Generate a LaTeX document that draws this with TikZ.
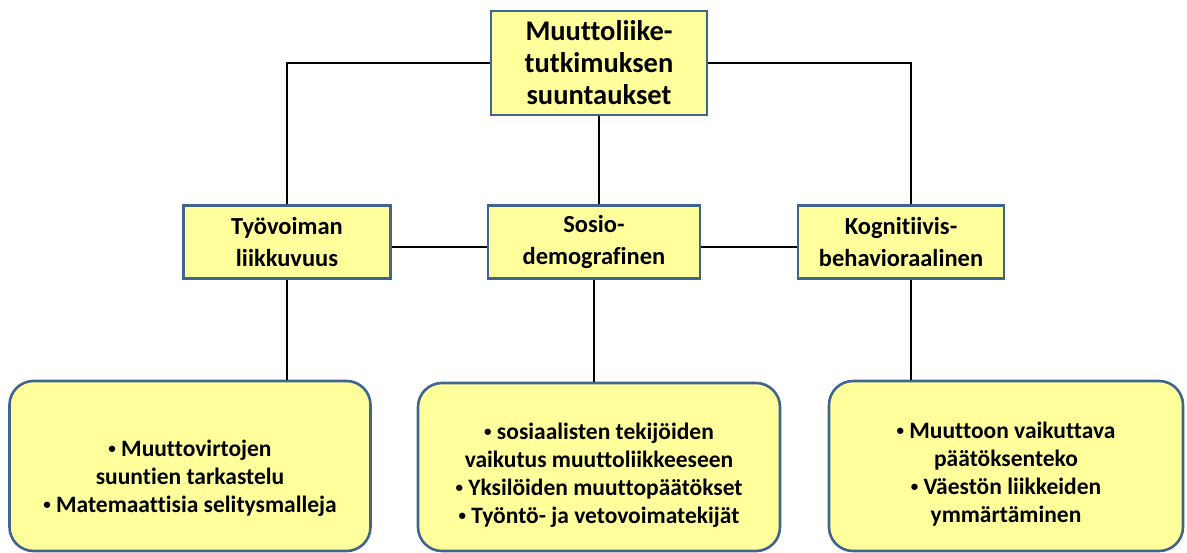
\documentclass[tikz,border=0pt]{standalone}
\usepackage{fontspec}
\setmainfont{Carlito}[Ligatures=NoCommon]
\definecolor{boxfill}{HTML}{FFFF9C}
\definecolor{boxline}{HTML}{41638F}
\newcommand{\dotmark}{\raisebox{2.5pt}{\fontsize{15}{15}\selectfont•}}
\newcommand{\pushdown}{\rule{0pt}{32pt}}
\begin{document}
\begin{tikzpicture}[x=1pt,y=-1pt,
    headbox/.style={draw=boxline,line width=2.6pt,fill=boxfill,align=center,
      font=\bfseries\fontsize{24.5}{32}\selectfont,inner sep=0pt},
    notebox/.style={draw=boxline,line width=2.6pt,fill=boxfill,align=center,rounded corners=24pt,
      font=\bfseries\fontsize{23.5}{28}\selectfont,inner sep=0pt},
    link/.style={line width=1.6pt}]
  \useasboundingbox (0,0) rectangle (1187,552);
  \node[headbox,minimum width=216pt,minimum height=104pt,font=\bfseries\fontsize{28.5}{32}\selectfont] at (599,63) (top) {Muuttoliike-\\tutkimuksen\\suuntaukset};
  \node[headbox,minimum width=207pt,minimum height=73pt] at (287,242) (work) {Työvoiman\\liikkuvuus};
  \node[headbox,minimum width=212pt,minimum height=73pt] at (594,242) (socio) {Sosio-\\demografinen};
  \node[headbox,minimum width=206pt,minimum height=73pt] at (901,242) (cogn) {Kognitiivis-\\behavioraalinen};
  \node[notebox,minimum width=361pt,minimum height=170pt] at (190,466) (flows) {\rule{0pt}{40pt}\dotmark{} Muuttovirtojen\\suuntien tarkastelu\\\dotmark{} Matemaattisia selitysmalleja};
  \node[notebox,minimum width=362pt,minimum height=168pt] at (599,467) (social) {\pushdown\dotmark{} sosiaalisten tekijöiden\\vaikutus muuttoliikkeeseen\\\dotmark{} Yksilöiden muuttopäätökset\\\dotmark{} Työntö- ja vetovoimatekijät};
  \node[notebox,minimum width=354pt,minimum height=170pt] at (1006,466) (decide) {\pushdown\dotmark{} Muuttoon vaikuttava\\päätöksenteko\\\dotmark{} Väestön liikkeiden\\ymmärtäminen};

  % draw edges
  \draw[link] (top.west) -| (work.north);
  \draw[link] (top.east) -| ([xshift=10pt]cogn.north);
  \draw[link] (top.south) -- (top.south |- socio.north);
  \draw[link] ([yshift=-5pt]work.east) -- ([yshift=-5pt]socio.west);
  \draw[link] ([yshift=-5pt]socio.east) -- ([yshift=-5pt]cogn.west);
  \draw[link] (work.south) -- (work.south |- flows.north);
  \draw[link] (socio.south) -- (socio.south |- social.north);
  \draw[link] ([xshift=10pt]cogn.south) -- ([xshift=10pt]cogn.south |- decide.north);
\end{tikzpicture}
\end{document}
